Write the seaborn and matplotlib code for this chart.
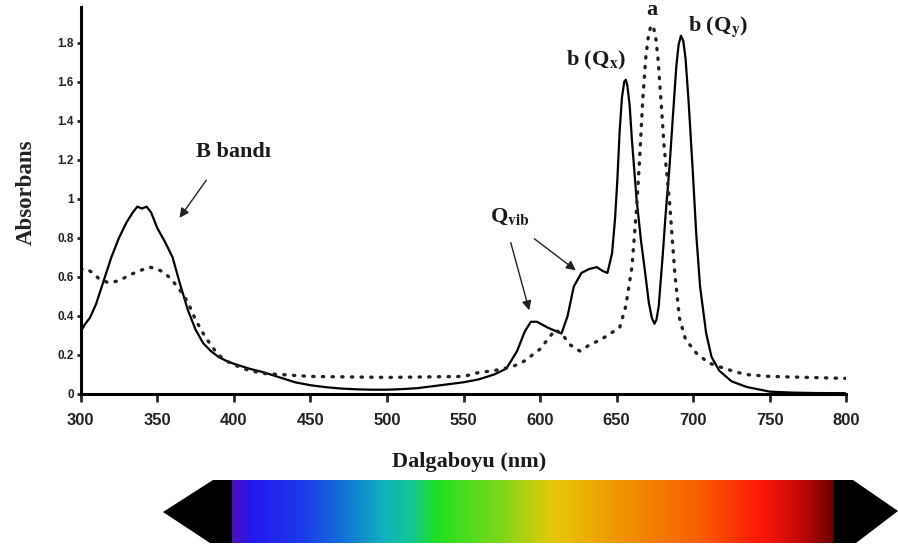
import numpy as np
import pandas as pd
import seaborn as sns
import matplotlib
matplotlib.use('Agg')
import matplotlib.pyplot as plt
from matplotlib.colors import LinearSegmentedColormap

# spectrum b (solid) - wavelength (nm), absorbance
wl_b = [300, 303, 306, 310, 315, 320, 325, 330, 334, 337, 340, 343, 346, 350, 355, 360, 365, 370,
        375, 380, 385, 390, 395, 400, 410, 420, 430, 440, 450, 460, 470, 480, 490, 500, 510, 520,
        530, 540, 550, 560, 570, 578, 585, 590, 594, 598, 605, 614, 618, 622, 627, 632, 637, 641,
        644, 647, 649, 650.5, 652, 653.5, 655, 656, 657, 658.5, 660, 661.5, 663, 666, 668.5, 671,
        673, 674.7, 676, 677.5, 680, 682, 684.5, 687, 689, 690.5, 692, 693.5, 695, 697, 699.6, 702,
        704.5, 708.5, 712, 717, 725, 735, 750, 765, 780, 800]
abs_b = [0.32, 0.36, 0.39, 0.46, 0.58, 0.70, 0.80, 0.88, 0.93, 0.96, 0.95, 0.96, 0.93, 0.85, 0.78,
         0.70, 0.56, 0.43, 0.33, 0.26, 0.22, 0.19, 0.17, 0.155, 0.13, 0.11, 0.085, 0.06, 0.045,
         0.035, 0.028, 0.024, 0.022, 0.022, 0.025, 0.03, 0.04, 0.05, 0.06, 0.075, 0.10, 0.13, 0.22,
         0.32, 0.37, 0.37, 0.34, 0.31, 0.40, 0.55, 0.62, 0.64, 0.65, 0.63, 0.62, 0.72, 0.90, 1.10,
         1.35, 1.52, 1.60, 1.61, 1.58, 1.48, 1.30, 1.15, 1.00, 0.78, 0.63, 0.47, 0.39, 0.36, 0.38,
         0.45, 0.70, 0.92, 1.16, 1.45, 1.68, 1.79, 1.835, 1.81, 1.72, 1.50, 1.16, 0.82, 0.55, 0.31,
         0.19, 0.12, 0.065, 0.036, 0.012, 0.007, 0.005, 0.004]

# spectrum a (dotted)
wl_a = [300, 304, 308, 312, 318, 325, 332, 338, 345, 350, 355, 360, 365, 370, 375, 380, 385, 390,
        395, 400, 410, 420, 430, 440, 450, 500, 550, 560, 570, 582, 590, 600, 605, 610, 615, 620,
        626, 632, 640, 646, 652, 656, 660, 663, 665, 667, 669, 670.5, 672, 673, 674, 675.5, 677,
        679, 681, 684.5, 688, 691, 695, 702, 710, 717, 725, 734, 750, 775, 800]
abs_a = [0.64, 0.64, 0.62, 0.59, 0.57, 0.58, 0.61, 0.63, 0.65, 0.64, 0.62, 0.58, 0.53, 0.47, 0.38,
         0.31, 0.25, 0.20, 0.17, 0.15, 0.12, 0.105, 0.10, 0.095, 0.09, 0.085, 0.09, 0.11, 0.12,
         0.14, 0.17, 0.23, 0.28, 0.33, 0.30, 0.25, 0.22, 0.25, 0.28, 0.31, 0.34, 0.45, 0.65, 0.95,
         1.20, 1.50, 1.72, 1.82, 1.875, 1.89, 1.88, 1.83, 1.72, 1.50, 1.27, 0.99, 0.62, 0.39, 0.28,
         0.21, 0.16, 0.14, 0.12, 0.10, 0.09, 0.085, 0.08]

x_ticks = [300, 350, 400, 450, 500, 550, 600, 650, 700, 750, 800]
y_ticks = [0, 0.2, 0.4, 0.6, 0.8, 1.0, 1.2, 1.4, 1.6, 1.8]
y_tick_labels = ['0', '0.2', '0.4', '0.6', '0.8', '1', '1.2', '1.4', '1.6', '1.8']

# visible spectrum colour stops (position 0..1 along the bar)
spec_pos = [0.0, 0.03, 0.12, 0.2, 0.25, 0.3, 0.34, 0.45, 0.535, 0.658, 0.776, 0.88, 0.95, 1.0]
spec_col = ['#4a10b8', '#2418f0', '#1c3ce8', '#1080d0', '#10b0c0', '#10c890', '#20e020', '#80d818',
            '#e8c808', '#f09000', '#f86000', '#ff1808', '#c00808', '#700000']

sns.set_style('white')
plt.rcParams['font.family'] = ['Liberation Sans', 'DejaVu Sans']
plt.rcParams['mathtext.fontset'] = 'stix'

fig = plt.figure(figsize=(8.98, 5.47), dpi=100)
ax = fig.add_axes([80.7 / 898, 1 - 394 / 547, (846.3 - 80.7) / 898, (394 - 6.7) / 547])

df_b = pd.DataFrame({'wl': wl_b, 'A': abs_b})
df_a = pd.DataFrame({'wl': wl_a, 'A': abs_a})
sns.lineplot(data=df_b, x='wl', y='A', ax=ax, color='black', linewidth=1.6)
sns.lineplot(data=df_a, x='wl', y='A', ax=ax, color='#222222', linewidth=2.4,
             linestyle=(0, (0.4, 2.5)), dash_capstyle='round')

ax.set_xlim(300, 800)
ax.set_ylim(0, 1.984)
ax.set_xticks(x_ticks)
ax.set_xticklabels([str(t) for t in x_ticks], fontsize=12, fontweight='bold', color='#222222')
ax.set_yticks(y_ticks)
ax.set_yticklabels(y_tick_labels, fontsize=8.5, fontweight='bold', color='#222222')
ax.tick_params(axis='x', direction='out', length=6, width=2, pad=8, bottom=True)
ax.tick_params(axis='y', direction='out', length=3, width=2, pad=2, left=True)
for s in ['top', 'right']:
    ax.spines[s].set_visible(False)
for s in ['left', 'bottom']:
    ax.spines[s].set_linewidth(2.2)
    ax.spines[s].set_color('black')
ax.set_xlabel('')
ax.set_ylabel('Absorbans', family=['Liberation Serif'], fontsize=16.5, fontweight='bold',
              color='#222222')
ax.yaxis.set_label_coords(-0.058, 0.52)

serif = dict(family=['Liberation Serif'], fontweight='bold', fontsize=16, color='#1a1a1a',
             ha='center', va='center')
ax.text(399.5, 1.24, 'B bandı', **serif)
ax.text(580.4, 0.907, r'Q$_{\mathbf{vib}}$', **serif)
ax.text(636.5, 1.71, r'b (Q$_{\mathbf{x}}$)', **serif)
ax.text(673, 1.967, 'a', **serif)
ax.text(716, 1.88, r'b (Q$_{\mathbf{y}}$)', **serif)

arr = dict(arrowstyle='-|>', color='#222222', lw=1.0, mutation_scale=14)
ax.annotate('', xy=(363.5, 0.891), xytext=(383.1, 1.107), arrowprops=arr)
ax.annotate('', xy=(593.4, 0.415), xytext=(580.4, 0.789), arrowprops=arr)
ax.annotate('', xy=(624.8, 0.625), xytext=(594.8, 0.804), arrowprops=arr)

fig.text(469 / 898, 1 - 462 / 547, 'Dalgaboyu (nm)', family=['Liberation Serif'], fontsize=16,
         fontweight='bold', color='#1a1a1a', ha='center', va='center')

# spectrum bar, axes coordinates in pixels of the figure
bx = fig.add_axes([163 / 898, 1 - 545 / 547, (898 - 163) / 898, 67 / 547])
bx.axis('off')
cmap = LinearSegmentedColormap.from_list('spec', list(zip(spec_pos, spec_col)))
grad = np.linspace(0, 1, 512).reshape(1, -1)
bx.imshow(grad, cmap=cmap, aspect='auto', extent=[232, 833, 543, 480])
bx.fill([213, 232, 232, 210, 163], [480, 480, 543, 543, 512], color='black', lw=0)
bx.fill([833, 853, 898, 856, 833], [480, 480, 511, 543, 543], color='black', lw=0)
bx.set_xlim(163, 898)
bx.set_ylim(545, 478)

fig.savefig('out.png', dpi=100)
